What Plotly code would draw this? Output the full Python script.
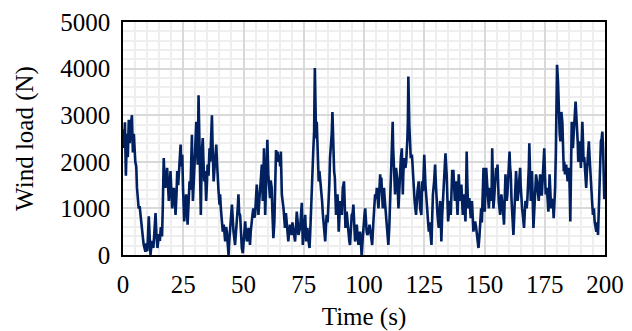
import plotly.graph_objects as go

time_s = [
    0, 0.4, 0.8, 1.2, 1.6, 2.0, 2.4, 2.8, 3.2, 3.7, 4.1, 4.5, 5.1, 5.5, 5.8, 6.2, 6.5, 6.9, 7.2, 7.6,
    7.9, 8.3, 8.6, 9.0, 9.3, 9.7, 10.1, 10.7, 11.0, 11.4, 11.8, 12.2, 12.6, 13.0, 13.5, 13.9, 14.3, 14.9, 15.3, 15.7,
    16.2, 16.5, 16.9, 17.2, 17.6, 18.0, 18.3, 18.7, 19.0, 19.4, 19.7, 20.0, 20.4, 20.8, 21.1, 21.5, 21.8, 22.2, 22.5, 22.9,
    23.2, 23.6, 23.9, 24.2, 24.6, 24.9, 25.4, 25.8, 26.2, 26.5, 26.8, 27.2, 27.6, 28.0, 28.3, 28.6, 29.0, 29.3, 29.5, 29.9,
    30.4, 30.7, 31.0, 31.35, 31.8, 32.0, 32.3, 32.7, 33.1, 33.4, 33.7, 34.1, 34.5, 34.8, 35.1, 35.5, 35.9, 36.2, 36.5, 36.9,
    37.2, 37.6, 37.9, 38.3, 38.7, 39.0, 39.2, 39.6, 40.05, 40.3, 40.6, 41.0, 41.4, 41.8, 42.1, 42.4, 42.8, 43.1, 43.5, 43.8,
    44.1, 44.5, 44.8, 45.2, 45.5, 45.85, 46.2, 46.5, 46.9, 47.2, 47.6, 47.9, 48.2, 48.6, 49.0, 49.3, 49.7, 50.2, 50.7, 51.0,
    51.4, 51.8, 52.1, 52.4, 52.7, 53.0, 53.4, 53.8, 54.1, 54.5, 54.8, 55.2, 55.5, 55.9, 56.2, 56.6, 56.9, 57.3, 57.6, 58.0,
    58.3, 58.5, 59.0, 59.2, 59.4, 59.9, 60.3, 60.6, 61.0, 61.3, 61.7, 62.0, 62.4, 62.8, 63.1, 63.5, 63.8, 64.1, 64.5, 64.9,
    65.2, 65.5, 65.9, 66.2, 66.6, 66.9, 67.2, 67.6, 67.9, 68.2, 68.6, 68.9, 69.3, 69.6, 70.0, 70.3, 70.7, 71.0, 71.4, 71.8,
    72.1, 72.5, 72.8, 73.1, 73.5, 73.9, 74.2, 74.6, 74.9, 75.2, 75.6, 76.0, 76.3, 76.5, 77.0, 77.4, 77.7, 77.9, 78.3, 78.7,
    79.0, 79.3, 79.6, 80.0, 80.2, 80.4, 80.8, 81.2, 81.5, 81.8, 82.2, 82.6, 82.9, 83.2, 83.6, 83.9, 84.2, 84.5, 84.9, 85.2,
    85.6, 85.9, 86.3, 86.6, 86.9, 87.3, 87.6, 87.9, 88.2, 88.4, 88.7, 89.0, 89.3, 89.5, 89.8, 90.1, 90.5, 90.8, 91.2, 91.7,
    92.0, 92.3, 92.6, 92.8, 93.2, 93.5, 93.9, 94.2, 94.6, 94.9, 95.3, 95.6, 96.0, 96.3, 96.7, 97.0, 97.4, 97.7, 98.1, 98.4,
    98.7, 99.0, 99.4, 99.8, 100.2, 100.5, 100.9, 101.1, 101.4, 101.9, 102.3, 102.8, 103.1, 103.4, 103.9, 104.2, 104.6, 105.0, 105.3, 105.7,
    106.0, 106.3, 106.7, 107.0, 107.2, 107.5, 107.8, 108.0, 108.3, 108.6, 108.9, 109.1, 109.4, 109.8, 110.1, 110.5, 110.8, 111.1, 111.5, 111.9,
    112.1, 112.4, 112.7, 112.9, 113.3, 113.6, 113.9, 114.3, 114.7, 115.0, 115.3, 115.7, 116.1, 116.3, 116.6, 116.9, 117.2, 117.5, 117.7, 118.0,
    118.2, 118.4, 118.8, 119.1, 119.4, 119.9, 120.2, 120.5, 121.0, 121.3, 121.6, 122.2, 122.7, 123.0, 123.3, 123.8, 124.1, 124.5, 125.0, 125.5,
    125.8, 126.3, 126.6, 126.9, 127.2, 127.4, 127.7, 128.0, 128.3, 128.6, 129.1, 129.5, 129.9, 130.2, 130.5, 131.0, 131.3, 131.6, 131.9, 132.1,
    132.4, 132.7, 133.2, 133.5, 133.8, 134.3, 134.6, 134.9, 135.2, 135.5, 136.0, 136.3, 136.6, 137.1, 137.4, 137.7, 138.2, 138.5, 138.8, 139.1,
    139.3, 139.6, 139.9, 140.4, 140.7, 141.0, 141.5, 141.8, 142.1, 142.4, 142.6, 142.9, 143.2, 143.7, 144.0, 144.3, 144.8, 145.1, 145.4, 145.7,
    146.1, 146.5, 146.8, 147.2, 147.5, 147.9, 148.2, 148.6, 148.9, 149.3, 149.6, 150.1, 150.4, 150.7, 151.2, 151.5, 151.8, 152.3, 152.9, 153.2,
    153.5, 153.7, 154.0, 154.3, 154.8, 155.1, 155.4, 155.9, 156.2, 156.5, 157.0, 157.3, 157.6, 157.9, 158.1, 158.4, 158.7, 159.0, 159.2, 159.5,
    159.8, 160.1, 160.4, 160.6, 160.9, 161.2, 161.5, 161.8, 162.0, 162.3, 162.6, 162.9, 163.1, 163.4, 163.7, 164.0, 164.2, 164.5, 164.8, 165.0,
    165.3, 165.6, 165.9, 166.2, 166.4, 166.7, 167.0, 167.3, 167.5, 167.8, 168.1, 168.4, 168.6, 168.9, 169.2, 169.5, 169.7, 170.0, 170.3, 170.6,
    170.9, 171.2, 171.4, 171.7, 172.0, 172.3, 172.5, 172.8, 173.1, 173.5, 173.8, 174.1, 174.4, 174.8, 175.1, 175.4, 175.9, 176.2, 176.5, 176.8,
    177.0, 177.3, 177.6, 177.9, 178.2, 178.5, 178.7, 179.0, 179.3, 179.6, 179.8, 180.1, 180.5, 180.9, 181.2, 181.5, 181.9, 182.3, 182.6, 182.9,
    183.1, 183.4, 183.9, 184.2, 184.5, 184.8, 185.1, 185.4, 185.6, 185.9, 186.2, 186.5, 186.7, 187.0, 187.3, 187.6, 187.8, 188.1, 188.4, 188.7,
    188.9, 189.2, 189.5, 189.8, 190.0, 190.3, 190.6, 190.9, 191.1, 191.4, 191.7, 192.0, 192.2, 192.5, 192.8, 193.1, 193.3, 193.6, 193.9, 194.2,
    194.4, 194.7, 195.0, 195.4, 195.7, 196.0, 196.4, 196.8, 197.1, 197.5, 197.8, 198.0, 198.3, 198.6, 198.9, 199.2, 199.4, 199.7, 200.0,
]

wind_load_n = [
    2700, 2300, 2850, 1700, 2600, 2100, 2900, 2400, 2750, 3000, 2200, 2600, 2000, 1900, 1440, 1200, 1000, 1050, 860, 700,
    580, 350, 220, 100, 70, 250, 80, 830, 300, 0, 200, 300, 150, 500, 900, 400, 150, 450, 300, 600,
    400, 1000, 2080, 1700, 1440, 1600, 1870, 1500, 1160, 1400, 1800, 1450, 1000, 1250, 1440, 1200, 860, 1300, 1800, 1500,
    1800, 2100, 2370, 1900, 2150, 1440, 720, 1000, 1300, 1000, 650, 1100, 1580, 1400, 2000, 2580, 1160, 1400, 1730, 2200,
    2860, 2400, 1940, 3430, 1940, 1300, 860, 2220, 2510, 2000, 1580, 1800, 1160, 1500, 1940, 1700, 2290, 2000, 2440, 3000,
    2300, 1580, 1800, 2080, 2370, 2000, 1730, 1400, 1080, 1300, 1000, 700, 500, 650, 400, 290, 600, 500, 200, 0,
    300, 500, 800, 1080, 700, 500, 350, 215, 500, 860, 1000, 1300, 900, 850, 400, 150, 40, 400, 720, 500,
    290, 450, 580, 400, 215, 500, 790, 900, 1000, 800, 860, 1200, 1510, 1100, 860, 1200, 1580, 1700, 1940, 1160,
    1800, 2290, 860, 1400, 1940, 2470, 1730, 1500, 1220, 1600, 1440, 900, 360, 700, 1160, 2250, 2100, 2220, 2000, 2150,
    1900, 2220, 1300, 1200, 1000, 800, 580, 900, 720, 500, 290, 500, 650, 550, 430, 700, 580, 400, 290, 600,
    930, 700, 430, 500, 580, 900, 1120, 215, 400, 720, 860, 290, 450, 580, 300, 150, 500, 860, 1220, 1800,
    2300, 2650, 4010, 2860, 2500, 2860, 2290, 1580, 1800, 1660, 1370, 1160, 900, 720, 500, 290, 600, 860, 700, 1000,
    1500, 2080, 2290, 2600, 3070, 2000, 1800, 1660, 1200, 860, 1000, 1300, 900, 500, 800, 1160, 1000, 860, 1440, 1580,
    1100, 580, 800, 930, 700, 430, 300, 215, 500, 860, 900, 1080, 600, 290, 450, 650, 400, 215, 400, 500,
    300, 0, 300, 720, 860, 1000, 580, 500, 430, 500, 650, 430, 300, 215, 720, 1000, 1300, 1200, 1440, 1200,
    1000, 1300, 1730, 1500, 1660, 1300, 1000, 1200, 1440, 1200, 1000, 800, 500, 350, 215, 600, 1160, 1500, 2080, 2860,
    2300, 1870, 1500, 1300, 1870, 1700, 1580, 1000, 1580, 1800, 2080, 2290, 1300, 1700, 2080, 1900, 1870, 2000, 2150, 2500,
    2860, 3830, 2790, 2400, 2080, 2150, 1800, 1440, 1160, 1000, 860, 1370, 1580, 1300, 1000, 860, 1580, 1370, 2150, 1500,
    1160, 930, 700, 500, 700, 580, 400, 215, 800, 1300, 1580, 1940, 1440, 1100, 860, 580, 900, 1160, 700, 290,
    800, 1160, 1440, 1800, 2180, 1730, 1200, 720, 900, 1160, 860, 1300, 1800, 1800, 1400, 1160, 1580, 1200, 860, 1300,
    1730, 1400, 1160, 1510, 1200, 860, 1300, 1000, 720, 1500, 2220, 1500, 1000, 1220, 1000, 790, 1160, 800, 500, 650,
    720, 600, 430, 300, 150, 400, 720, 1000, 700, 1300, 1870, 930, 1300, 1870, 1440, 1200, 1000, 1440, 1160, 2290,
    1500, 1000, 1200, 1440, 1870, 1600, 1940, 1160, 1000, 860, 1300, 1200, 1000, 800, 650, 1200, 1730, 1400, 1160, 1300,
    1580, 1900, 2220, 1900, 1730, 1200, 860, 700, 430, 800, 1300, 1600, 1800, 1500, 1160, 1300, 1440, 1600, 1870, 1500,
    1160, 1000, 860, 700, 580, 900, 1160, 1100, 1000, 1200, 1440, 1900, 2400, 1700, 1160, 1500, 1800, 1200, 580, 900,
    1160, 1400, 1730, 1600, 1440, 1300, 1160, 1500, 1730, 1300, 1300, 1600, 1900, 2290, 1700, 1300, 1440, 1200, 930, 1300,
    1730, 1400, 1000, 1200, 1160, 1000, 790, 1100, 1440, 2200, 3000, 4080, 3720, 2930, 2600, 2440, 3070, 2860, 2300, 1800,
    2000, 1730, 1940, 1700, 1580, 1700, 1870, 1300, 720, 1800, 2860, 2600, 2290, 2600, 2790, 3000, 3290, 3000, 2790, 2400,
    2000, 2200, 2440, 2100, 1870, 2400, 2860, 2400, 2000, 2100, 1870, 1700, 1440, 1800, 2150, 2300, 2440, 2100, 1730, 1600,
    1440, 1100, 860, 1000, 720, 600, 500, 700, 430, 1100, 1730, 2100, 2440, 2500, 2650, 2300, 1940, 1200, 1500,
]

x_ticks = [0, 25, 50, 75, 100, 125, 150, 175, 200]
y_ticks = [0, 1000, 2000, 3000, 4000, 5000]

font_family = "Liberation Serif, Times New Roman, serif"

fig = go.Figure(
    go.Scatter(
        x=time_s,
        y=wind_load_n,
        mode="lines",
        line=dict(color="#002060", width=2.6),
        showlegend=False,
    )
)

fig.update_layout(
    width=632,
    height=331,
    margin=dict(l=115, r=35, t=14, b=84),
    paper_bgcolor="white",
    plot_bgcolor="white",
    font=dict(family=font_family, size=25, color="black"),
)

fig.update_xaxes(
    range=[0, 200],
    tickvals=x_ticks,
    ticktext=[str(v) for v in x_ticks],
    showgrid=True,
    gridcolor="#d9d9d9",
    gridwidth=1.5,
    minor=dict(dtick=5, showgrid=True, gridcolor="#eeeeee", gridwidth=1.5),
    showline=True,
    linecolor="black",
    linewidth=1.5,
    mirror=True,
    ticks="",
    zeroline=False,
    ticklabelstandoff=6,
    title=dict(text="Time (s)", font=dict(size=25), standoff=11),
    automargin=False,
)

fig.update_yaxes(
    range=[0, 5000],
    tickvals=y_ticks,
    ticktext=[str(v) for v in y_ticks],
    showgrid=True,
    gridcolor="#d9d9d9",
    gridwidth=1.5,
    minor=dict(dtick=200, showgrid=True, gridcolor="#eeeeee", gridwidth=1.5),
    showline=True,
    linecolor="black",
    linewidth=1.5,
    mirror=True,
    ticks="",
    zeroline=False,
    ticklabelstandoff=6,
    title=dict(text="Wind load (N)", font=dict(size=25), standoff=20),
    automargin=False,
)

fig.write_html("out.html")
